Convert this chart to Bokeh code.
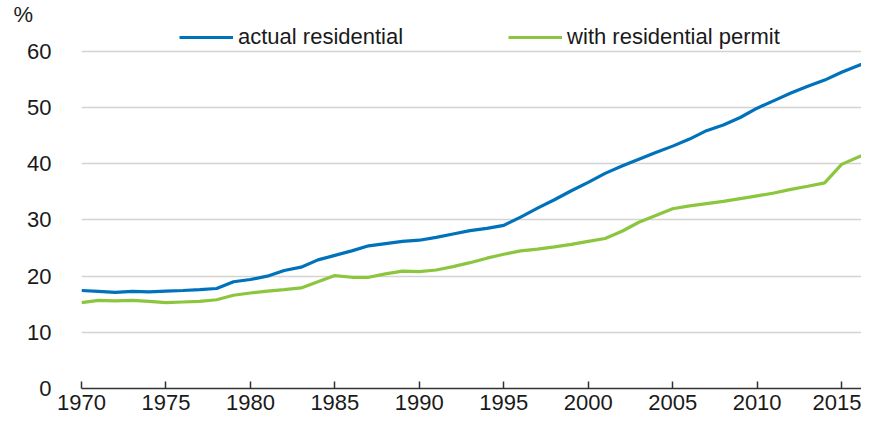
from bokeh.plotting import figure
from bokeh.models import FixedTicker, Legend, LegendItem, Range1d, Title
from bokeh.embed import file_html
from bokeh.resources import INLINE

years = list(range(1970, 2018))
actual_residential = [17.45, 17.3, 17.1, 17.3, 17.2, 17.35, 17.45, 17.6, 17.8, 19.0, 19.4,
                      20.0, 21.0, 21.6, 22.9, 23.7, 24.5, 25.4, 25.8, 26.2, 26.4,
                      26.9, 27.5, 28.1, 28.5, 29.05, 30.5, 32.1, 33.6, 35.2, 36.7,
                      38.3, 39.6, 40.8, 42.0, 43.15, 44.4, 45.9, 46.9, 48.25, 49.9,
                      51.25, 52.6, 53.8, 54.9, 56.3, 57.5, 58.8]
with_permit = [15.3, 15.7, 15.6, 15.7, 15.5, 15.3, 15.4, 15.5, 15.8, 16.6, 17.0,
               17.35, 17.6, 17.9, 19.0, 20.1, 19.8, 19.8, 20.4, 20.9, 20.8,
               21.1, 21.7, 22.4, 23.2, 23.9, 24.5, 24.8, 25.2, 25.65, 26.2,
               26.7, 28.0, 29.6, 30.8, 32.0, 32.5, 32.9, 33.3, 33.8, 34.3,
               34.8, 35.45, 36.0, 36.6, 39.9, 41.2, 42.4]
x_ticks = list(range(1970, 2016, 5))
y_ticks = list(range(0, 61, 10))
series_names = ["actual residential", "with residential permit"]
unit_label = "%"

FONT = "Liberation Sans"
BLUE = "#0072BC"
GREEN = "#8CC63F"
TXT = "#1a1a1a"

p = figure(width=861, height=419, output_backend="svg", toolbar_location=None,
           x_range=Range1d(1970, 2016.18), y_range=Range1d(0, 64.98),
           min_border_left=81, min_border_right=0, min_border_top=23, min_border_bottom=31)
p.outline_line_color = None
p.background_fill_color = "white"
p.border_fill_color = "white"

p.title = Title(text=unit_label, align="left", offset=-68, standoff=-7,
                text_font=FONT, text_font_size="22px", text_font_style="normal",
                text_color=TXT)

p.xgrid.grid_line_color = None
p.ygrid.grid_line_color = "#D3D3D3"
p.ygrid.grid_line_width = 1.5

p.xaxis.ticker = FixedTicker(ticks=x_ticks)
p.yaxis.ticker = FixedTicker(ticks=y_ticks)

p.xaxis.axis_line_color = "#333333"
p.xaxis.axis_line_width = 1.5
p.xaxis.major_tick_line_color = "#333333"
p.xaxis.major_tick_line_width = 1.5
p.xaxis.major_tick_in = 7
p.xaxis.major_tick_out = 0
p.xaxis.minor_tick_line_color = None
p.xaxis.major_label_standoff = 6

p.yaxis.axis_line_color = None
p.yaxis.major_tick_line_color = None
p.yaxis.minor_tick_line_color = None
p.yaxis.major_label_standoff = 24

for ax in (p.xaxis, p.yaxis):
    ax.major_label_text_font = FONT
    ax.major_label_text_font_size = "22px"
    ax.major_label_text_color = TXT

r1 = p.line(years, actual_residential, line_color=BLUE, line_width=3.2)
r2 = p.line(years, with_permit, line_color=GREEN, line_width=3.2)

legend = Legend(items=[LegendItem(label=series_names[0], renderers=[r1]),
                       LegendItem(label=series_names[1], renderers=[r2])],
                orientation="horizontal", location=(98, 338),
                background_fill_alpha=0, border_line_color=None,
                padding=0, margin=0, spacing=105, glyph_width=54,
                label_standoff=5, label_text_font=FONT, label_text_font_size="22px",
                label_text_color=TXT)
p.add_layout(legend, "center")

open("out.html", "w").write(file_html(p, INLINE))
